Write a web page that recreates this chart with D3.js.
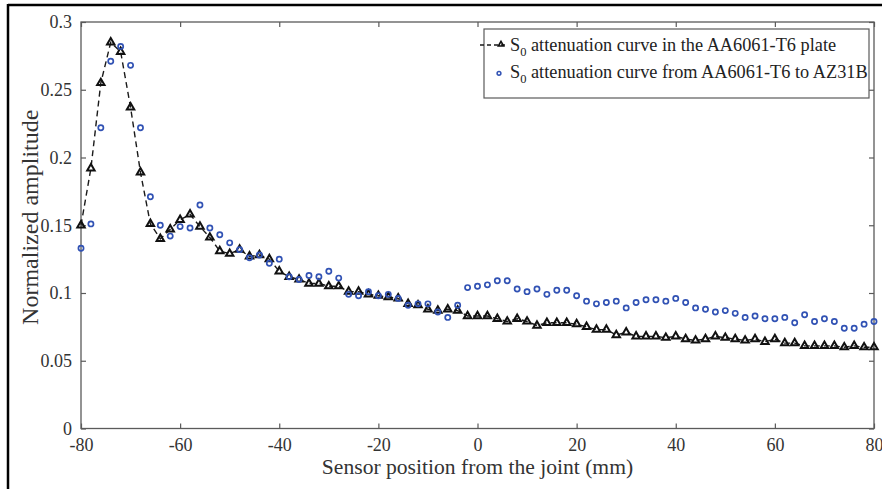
<!DOCTYPE html>
<html>
<head>
<meta charset="utf-8">
<script src="https://cdn.jsdelivr.net/npm/d3@7/dist/d3.min.js"></script>
<style>
  html, body { margin: 0; padding: 0; background: #fff; }
  svg { display: block; }
</style>
</head>
<body>
<svg id="chart" width="882" height="489"></svg>
<script>
// Sensor positions along the plate (mm)
const positions = [
  -80, -78, -76, -74, -72, -70, -68, -66, -64, -62,
  -60, -58, -56, -54, -52, -50, -48, -46, -44, -42,
  -40, -38, -36, -34, -32, -30, -28, -26, -24, -22,
  -20, -18, -16, -14, -12, -10, -8, -6, -4, -2,
  0, 2, 4, 6, 8, 10, 12, 14, 16, 18,
  20, 22, 24, 26, 28, 30, 32, 34, 36, 38,
  40, 42, 44, 46, 48, 50, 52, 54, 56, 58,
  60, 62, 64, 66, 68, 70, 72, 74, 76, 78, 80
];

// S0 attenuation in the AA6061-T6 plate
const plateAmp = [
  0.150, 0.192, 0.255, 0.285, 0.278, 0.237, 0.189, 0.151, 0.140, 0.147,
  0.154, 0.158, 0.149, 0.141, 0.131, 0.129, 0.132, 0.127, 0.128, 0.125,
  0.116, 0.112, 0.110, 0.107, 0.107, 0.105, 0.105, 0.101, 0.101, 0.099,
  0.098, 0.097, 0.096, 0.092, 0.091, 0.088, 0.087, 0.088, 0.087, 0.083,
  0.083, 0.083, 0.081, 0.079, 0.081, 0.079, 0.076, 0.078, 0.078, 0.078,
  0.077, 0.075, 0.073, 0.073, 0.069, 0.071, 0.068, 0.068, 0.068, 0.067,
  0.068, 0.066, 0.065, 0.066, 0.068, 0.067, 0.066, 0.065, 0.066, 0.064,
  0.066, 0.063, 0.063, 0.061, 0.061, 0.061, 0.061, 0.060, 0.061, 0.060, 0.060
];

// S0 attenuation from AA6061-T6 across the joint to AZ31B
const jointAmp = [
  0.133, 0.151, 0.222, 0.271, 0.282, 0.268, 0.222, 0.171, 0.150, 0.142,
  0.149, 0.148, 0.165, 0.148, 0.143, 0.137, 0.132, 0.126, 0.128, 0.122,
  0.125, 0.112, 0.110, 0.113, 0.112, 0.116, 0.111, 0.099, 0.098, 0.101,
  0.098, 0.099, 0.096, 0.091, 0.092, 0.092, 0.086, 0.082, 0.091, 0.104,
  0.105, 0.106, 0.109, 0.109, 0.103, 0.101, 0.103, 0.099, 0.102, 0.102,
  0.098, 0.094, 0.092, 0.093, 0.094, 0.089, 0.093, 0.095, 0.095, 0.094,
  0.096, 0.093, 0.089, 0.088, 0.086, 0.087, 0.085, 0.082, 0.083, 0.081,
  0.081, 0.082, 0.078, 0.084, 0.079, 0.081, 0.079, 0.074, 0.074, 0.077, 0.079
];

const xTicks = [-80, -60, -40, -20, 0, 20, 40, 60, 80];
const xTickLabels = ["-80", "-60", "-40", "-20", "0", "20", "40", "60", "80"];
const yTicks = [0, 0.05, 0.1, 0.15, 0.2, 0.25, 0.3];
const yTickLabels = ["0", "0.05", "0.1", "0.15", "0.2", "0.25", "0.3"];

const legendLabels = [
  " attenuation curve in the AA6061-T6 plate",
  " attenuation curve from AA6061-T6 to AZ31B"
];

const serif = '"Liberation Serif", "Times New Roman", serif';
const svg = d3.select("#chart").attr("font-family", serif);
const plotLeft = 81, plotRight = 874, plotTop = 22, plotBottom = 428.5;

const x = d3.scaleLinear().domain([-80, 80]).range([plotLeft, plotRight]);
const y = d3.scaleLinear().domain([0, 0.3]).range([plotBottom, plotTop]);

const axisColor = "#5a5a5a";
const labelColor = "#333";

// page frame strokes
svg.append("line").attr("x1", 8).attr("x2", 882).attr("y1", 5).attr("y2", 5)
  .attr("stroke", "#000").attr("stroke-width", 2.5);
svg.append("line").attr("x1", 8).attr("x2", 8).attr("y1", 4).attr("y2", 489)
  .attr("stroke", "#000").attr("stroke-width", 2.5);

// axes box
svg.append("rect")
  .attr("x", plotLeft).attr("y", plotTop)
  .attr("width", plotRight - plotLeft).attr("height", plotBottom - plotTop)
  .attr("fill", "none").attr("stroke", axisColor).attr("stroke-width", 1.3);

function styleAxis(g, showLabels) {
  g.attr("font-family", serif).attr("font-size", 18);
  g.select(".domain").remove();
  g.selectAll(".tick line").attr("stroke", axisColor).attr("stroke-width", 1.2);
  g.selectAll(".tick text").attr("fill", labelColor);
  if (!showLabels) g.selectAll(".tick text").remove();
}

svg.append("g").attr("transform", `translate(0,${plotBottom})`)
  .call(d3.axisBottom(x).tickValues(xTicks).tickSize(-5).tickPadding(10)
    .tickFormat((d, i) => xTickLabels[i]))
  .call(g => styleAxis(g, true));
svg.append("g").attr("transform", `translate(0,${plotTop})`)
  .call(d3.axisTop(x).tickValues(xTicks).tickSize(-5))
  .call(g => styleAxis(g, false));
svg.append("g").attr("transform", `translate(${plotLeft},0)`)
  .call(d3.axisLeft(y).tickValues(yTicks).tickSize(-5).tickPadding(9)
    .tickFormat((d, i) => yTickLabels[i]))
  .call(g => styleAxis(g, true));
svg.append("g").attr("transform", `translate(${plotRight},0)`)
  .call(d3.axisRight(y).tickValues(yTicks).tickSize(-5))
  .call(g => styleAxis(g, false));

// axis titles
svg.append("text")
  .attr("x", (plotLeft + plotRight) / 2).attr("y", 474)
  .attr("text-anchor", "middle").attr("fill", labelColor)
  .attr("font-size", 21.6)
  .text("Sensor position from the joint (mm)");
svg.append("text")
  .attr("transform", `translate(38,${(plotTop + plotBottom) / 2 - 8}) rotate(-90)`)
  .attr("text-anchor", "middle").attr("fill", labelColor)
  .attr("font-size", 24)
  .text("Normalized amplitude");

const plateData = positions.map((p, i) => ({ p, v: plateAmp[i] }));
const jointData = positions.map((p, i) => ({ p, v: jointAmp[i] }));

const blue = "#3152b4";

// dashed curve for the plate series
svg.append("path")
  .datum(plateData)
  .attr("fill", "none").attr("stroke", "#1a1a1a")
  .attr("stroke-width", 1.4).attr("stroke-dasharray", "6,4")
  .attr("d", d3.line().x(d => x(d.p)).y(d => y(d.v)));

const tri = d3.symbol().type(d3.symbolTriangle).size(24);
svg.append("g").selectAll("path")
  .data(plateData).join("path")
  .attr("transform", d => `translate(${x(d.p)},${y(d.v)})`)
  .attr("d", tri)
  .attr("fill", "none").attr("stroke", "#111").attr("stroke-width", 2);

svg.append("g").selectAll("circle")
  .data(jointData).join("circle")
  .attr("cx", d => x(d.p)).attr("cy", d => y(d.v)).attr("r", 2.6)
  .attr("fill", "none").attr("stroke", blue).attr("stroke-width", 1.7);

// legend
const lg = svg.append("g");
lg.append("rect")
  .attr("x", 484).attr("y", 29).attr("width", 385).attr("height", 69)
  .attr("fill", "#fff").attr("stroke", axisColor).attr("stroke-width", 1.2);
lg.append("line")
  .attr("x1", 480).attr("x2", 508).attr("y1", 45).attr("y2", 45)
  .attr("stroke", "#1a1a1a").attr("stroke-width", 1.3).attr("stroke-dasharray", "4,3");
lg.append("path")
  .attr("transform", "translate(501,44.5)")
  .attr("d", d3.symbol().type(d3.symbolTriangle).size(12)())
  .attr("fill", "none").attr("stroke", "#111").attr("stroke-width", 1.6);
lg.append("circle")
  .attr("cx", 499).attr("cy", 73.3).attr("r", 1.9)
  .attr("fill", "none").attr("stroke", blue).attr("stroke-width", 1.5);

const rows = [50.7, 78];
legendLabels.forEach((label, i) => {
  const t = lg.append("text").attr("x", 510).attr("y", rows[i])
    .attr("fill", "#222").attr("font-size", 18.3);
  t.append("tspan").text("S");
  t.append("tspan").attr("dy", 5).attr("font-size", 12.5).text("0");
  t.append("tspan").attr("dy", -5).text(label);
});
</script>
</body>
</html>
